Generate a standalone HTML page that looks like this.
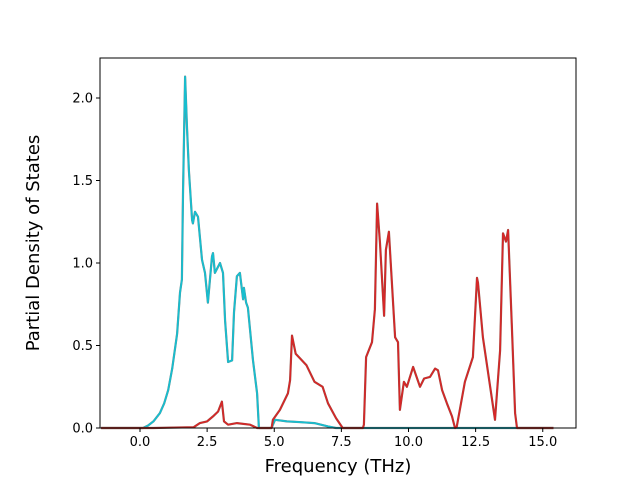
<!DOCTYPE html>
<html><head><meta charset="utf-8"><style>
body{margin:0;background:#fff}
svg text{font-family:"DejaVu Sans","Liberation Sans",sans-serif}
</style></head><body>
<svg id="chart" width="640" height="480" xmlns="http://www.w3.org/2000/svg">
<rect width="640" height="480" fill="#fff"/>
<g id="marks"></g>
<g id="axes"></g>
</svg>
<script>
const xTicks=[0,2.5,5,7.5,10,12.5,15];
const xTickLabels=["0.0","2.5","5.0","7.5","10.0","12.5","15.0"];
const yTicks=[0,0.5,1,1.5,2];
const yTickLabels=["0.0","0.5","1.0","1.5","2.0"];
const cyanX=[-1.45,0.11,0.3,0.5,0.74,0.9,1.05,1.2,1.38,1.49,1.56,1.6,1.68,1.75,1.82,1.94,1.97,2.05,2.16,2.31,2.42,2.53,2.68,2.72,2.79,2.98,3.09,3.17,3.28,3.43,3.5,3.61,3.72,3.84,3.87,3.95,4.02,4.21,4.36,4.43,4.9,4.95,5.03,5.47,6.0,6.5,7.0,7.3,15.4];
const cyanY=[0,0,0.015,0.04,0.09,0.15,0.23,0.36,0.57,0.82,0.9,1.42,2.13,1.82,1.56,1.26,1.24,1.31,1.28,1.02,0.94,0.76,1.04,1.06,0.94,1.0,0.94,0.65,0.4,0.41,0.7,0.92,0.94,0.78,0.85,0.76,0.73,0.41,0.21,0,0,0.02,0.05,0.04,0.035,0.03,0.01,0,0];
const redX=[-1.45,0.5,2.0,2.23,2.5,2.72,2.91,3.05,3.13,3.28,3.61,4.1,4.36,4.9,4.95,5.21,5.51,5.59,5.66,5.8,6.2,6.5,6.8,7.0,7.3,7.55,8.3,8.34,8.42,8.64,8.75,8.83,8.94,9.09,9.16,9.27,9.5,9.61,9.68,9.83,9.94,10.17,10.43,10.58,10.8,10.99,11.1,11.25,11.43,11.62,11.73,11.8,12.1,12.4,12.55,12.59,12.77,13.22,13.41,13.52,13.63,13.71,13.85,13.97,14.04,15.4];
const redY=[0,0,0.005,0.03,0.04,0.07,0.1,0.16,0.04,0.02,0.03,0.02,0,0,0.05,0.11,0.21,0.29,0.56,0.45,0.38,0.28,0.25,0.15,0.06,0,0,0.02,0.43,0.52,0.72,1.36,1.12,0.68,1.08,1.19,0.55,0.52,0.11,0.28,0.25,0.37,0.25,0.3,0.31,0.36,0.35,0.23,0.15,0.07,0,0.01,0.28,0.43,0.91,0.88,0.55,0.05,0.47,1.18,1.13,1.2,0.61,0.09,0,0];
const L=100,R=576,T=58,B=428;
const xs=v=>140+v*26.85;
const ys=v=>B-v*165;
const NS="http://www.w3.org/2000/svg";
const marks=document.getElementById('marks'),axes=document.getElementById('axes');
function mk(tag,attrs,parent){const e=document.createElementNS(NS,tag);for(const k in attrs)e.setAttribute(k,attrs[k]);parent.appendChild(e);return e;}
function pathD(X,Y){return X.map((x,i)=>(i?'L':'M')+xs(x).toFixed(1)+','+ys(Y[i]).toFixed(1)).join('');}
let p;
p=mk('path',{d:pathD(cyanX,cyanY),fill:'none',stroke:'#7f7f7f','stroke-width':2.2,'stroke-linejoin':'round'},marks);


p=mk('path',{d:pathD(cyanX,cyanY),fill:'none',stroke:'#17becf','stroke-width':1.8,'stroke-linejoin':'round'},marks);


p=mk('path',{d:pathD(redX,redY),fill:'none',stroke:'#8c564b','stroke-width':2.2,'stroke-linejoin':'round'},marks);


p=mk('path',{d:pathD(redX,redY),fill:'none',stroke:'#d62728','stroke-width':1.6,'stroke-linejoin':'round'},marks);


p=mk('rect',{x:L,y:T,width:R-L,height:B-T,fill:'none',stroke:'#000','stroke-width':1},axes);


xTicks.forEach((v,i)=>{
 let t=mk('line',{x1:xs(v),x2:xs(v),y1:B,y2:B+4,stroke:'#000'},axes);
 
 
 let l=mk('text',{x:xs(v),y:B+18,'text-anchor':'middle','font-size':13},axes);
 l.textContent=xTickLabels[i];
 
 
});
yTicks.forEach((v,i)=>{
 let t=mk('line',{x1:L-4,x2:L,y1:ys(v),y2:ys(v),stroke:'#000'},axes);
 
 
 let l=mk('text',{x:L-7,y:ys(v)+4.5,'text-anchor':'end','font-size':13},axes);
 l.textContent=yTickLabels[i];
 
 
});
let xt=mk('text',{x:(L+R)/2,y:472,'text-anchor':'middle','font-size':18},axes);
xt.textContent='Frequency (THz)';


let yt=mk('text',{x:0,y:0,'text-anchor':'middle','font-size':18,transform:'translate(39,243) rotate(-90)'},axes);
yt.textContent='Partial Density of States';


</script>
</body></html>
